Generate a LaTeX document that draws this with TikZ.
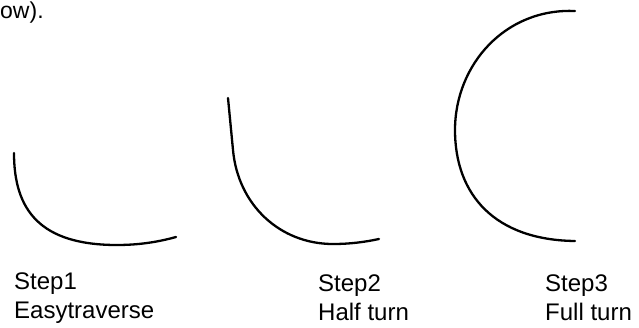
\documentclass[tikz,border=0pt]{standalone}
\usepackage{fontspec}
\setmainfont{Liberation Sans}
\begin{document}
\begin{tikzpicture}[x=1pt,y=-1pt,
  curve/.style={line width=2.3pt, line cap=round, line join=round},
  lbl/.style={anchor=base west, inner sep=0pt, align=left,
    font=\fontsize{24}{29}\selectfont}]
\useasboundingbox[fill=white] (0,0) rectangle (639,327);
\node[anchor=base west, inner sep=0pt, font=\fontsize{23}{28}\selectfont] (top) at (0,18) {ow).};
% curve 1
\draw[curve] (14,153) .. controls (14,210) and (40,245) .. (117,245)
  .. controls (145,245) and (165,240) .. (176,237);
% curve 2
\draw[curve] (228,98) -- (233,150) .. controls (238,205) and (280,244) .. (333,244)
  .. controls (350,244) and (365,242) .. (379,239);
% curve 3
\draw[curve] (575,11) .. controls (505,8) and (455,65) .. (455,130)
  .. controls (455,195) and (495,240) .. (575,241);
\node[lbl] (s1) at (14,318) {Step1\\Easytraverse};
\node[lbl] (s2) at (318,320) {Step2\\Half turn};
\node[lbl] (s3) at (545,320) {Step3\\Full turn};
\end{tikzpicture}
\end{document}
